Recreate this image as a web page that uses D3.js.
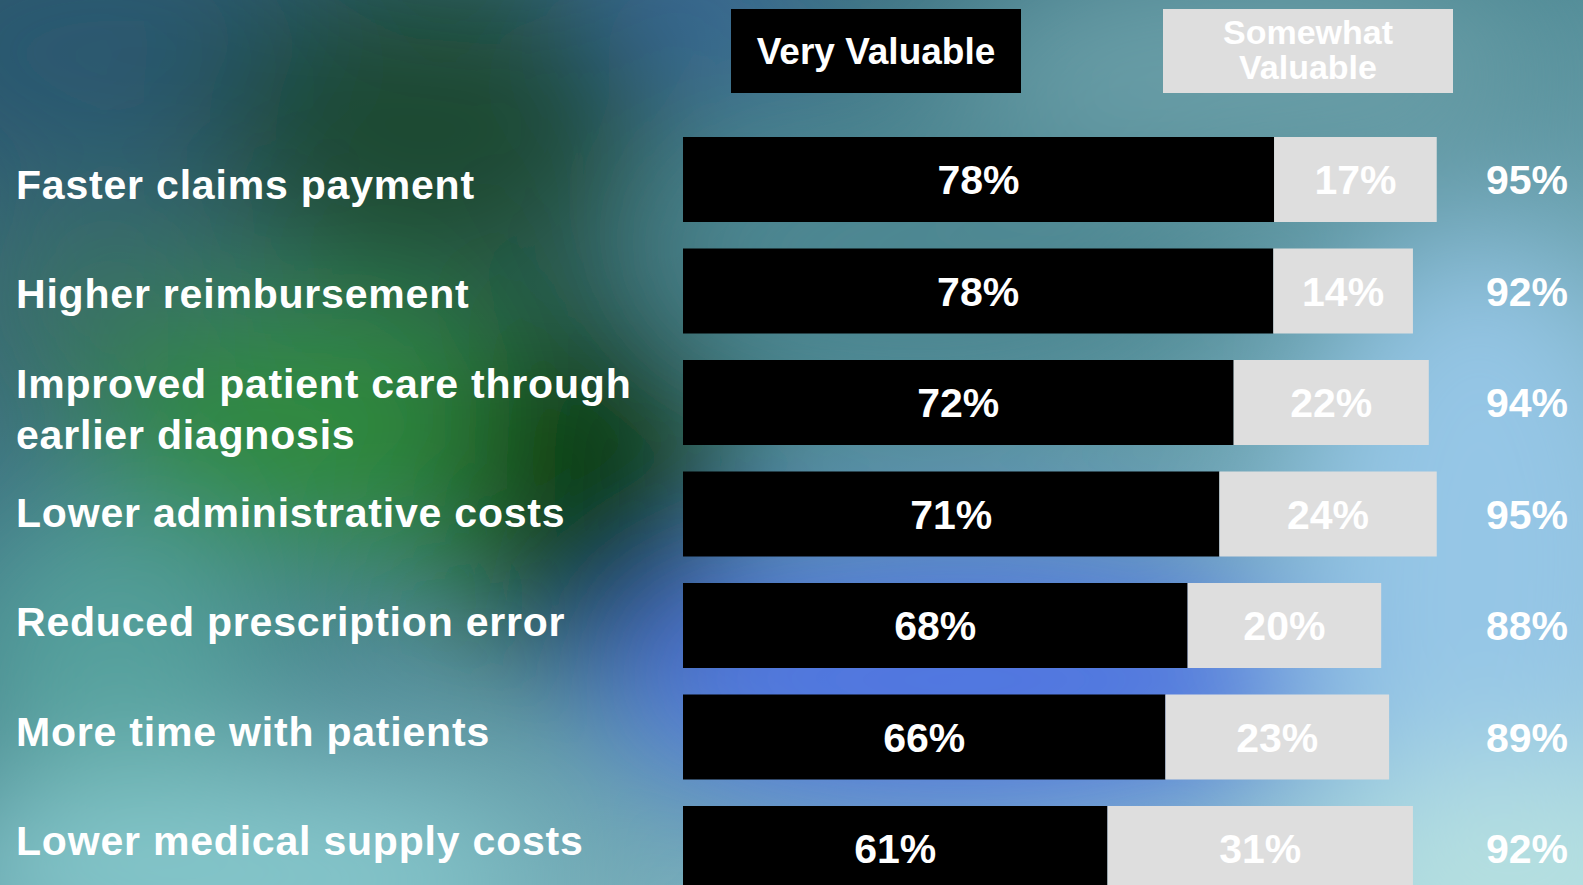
<!DOCTYPE html>
<html>
  <head>
    <meta charset="utf-8">
    <title>Value of e-prescribing</title>
    <script src="https://d3js.org/d3.v7.min.js"></script>
    <style>
      body { margin: 0; overflow: hidden; }
      #chart { display: block; }
      text { font-family: "Liberation Sans", Arial, sans-serif; font-weight: bold; }
    </style>
  </head>
  <body>
    <svg id="chart" width="1583" height="885">
      <defs>
        <filter id="blur" x="-50%" y="-50%" width="200%" height="200%">
          <feGaussianBlur stdDeviation="70"></feGaussianBlur>
        </filter>
        <linearGradient id="baseFill" x1="0" y1="0" x2="1" y2="1">
          <stop offset="0" stop-color="#2e5a70"></stop>
          <stop offset="0.45" stop-color="#4a8590"></stop>
          <stop offset="1" stop-color="#a6d6e4"></stop>
        </linearGradient>
      </defs>
      <g id="backGroup"></g>
      <g id="legendGroup"></g>
      <g id="chartGroup"></g>
      <g id="labelGroup"></g>
    </svg>
    <script>
      // data
      var categories = [
        "Faster claims payment",
        "Higher reimbursement",
        "Improved patient care through earlier diagnosis",
        "Lower administrative costs",
        "Reduced prescription error",
        "More time with patients",
        "Lower medical supply costs"
      ];
      var seriesNames = ["Very Valuable", "Somewhat Valuable"];
      var veryLabel = [78, 78, 72, 71, 68, 66, 61];
      var somewhatLabel = [17, 14, 22, 24, 20, 23, 31];
      var totalLabel = [95, 92, 94, 95, 88, 89, 92];
      // where the black part ends, as drawn in the picture
      var veryBar = [74.5, 74.4, 69.4, 67.6, 63.6, 60.8, 53.5];

      var rows = categories.map(function(c, i) {
        return { name: c, very: veryLabel[i], somewhat: somewhatLabel[i], total: totalLabel[i], veryEnd: veryBar[i] };
      });

      // name page elements
      var chart = d3.select("#chart");
      var backGroup = d3.select("#backGroup");
      var legendGroup = d3.select("#legendGroup");
      var chartGroup = d3.select("#chartGroup");
      var labelGroup = d3.select("#labelGroup");

      var colour = d3.scaleOrdinal().domain(seriesNames).range(["#000000", "#dedede"]);

      // background blobs
      backGroup.append("rect")
        .attr("width", 1583).attr("height", 885)
        .attr("fill", "url(#baseFill)");
      var blobs = [
        [120, 50, 260, 130, "#2c5870"],
        [430, 130, 220, 160, "#1a4a30"],
        [700, 10, 110, 50, "#3560a0"],
        [1250, 70, 300, 110, "#6a9fa8"],
        [920, 250, 280, 130, "#4d8792"],
        [100, 300, 120, 90, "#3a7062"],
        [330, 430, 240, 120, "#2e8a3a"],
        [590, 480, 130, 190, "#083a0c"],
        [110, 660, 160, 150, "#55a09c"],
        [230, 880, 320, 110, "#86c8cc"],
        [960, 680, 360, 130, "#5074e2"],
        [1480, 560, 190, 330, "#95c6e6"],
        [1520, 880, 200, 120, "#b6e0e0"]
      ];
      backGroup.append("g")
        .attr("filter", "url(#blur)")
        .selectAll("ellipse")
        .data(blobs)
        .join("ellipse")
          .attr("cx", function(d) { return d[0]; })
          .attr("cy", function(d) { return d[1]; })
          .attr("rx", function(d) { return d[2]; })
          .attr("ry", function(d) { return d[3]; })
          .attr("fill", function(d) { return d[4]; });

      // scales
      var x = d3.scaleLinear().domain([0, 100]).range([683, 1476.4]);
      var y = d3.scaleBand().domain(categories).range([137, 891]).paddingInner(0.2377);
      var yLabel = d3.scalePoint().domain(categories).range([199, 855]);

      // legend
      var legend = legendGroup.selectAll(".key")
        .data(seriesNames)
        .join("g")
          .attr("class", "key")
          .attr("transform", function(d, i) { return "translate(" + (731 + i * 432) + ",9)"; });
      legend.append("rect")
        .attr("width", 290).attr("height", 84)
        .attr("fill", function(d) { return colour(d); });
      legend.append("text")
        .attr("x", 145)
        .attr("text-anchor", "middle")
        .attr("fill", "#ffffff")
        .style("font-size", function(d, i) { return i ? "34px" : "37px"; })
        .each(function(d, i) {
          var t = d3.select(this);
          var lines = i ? d.split(" ") : [d];
          lines.forEach(function(l, j) {
            t.append("tspan")
              .attr("x", 145)
              .attr("y", lines.length > 1 ? 35 + j * 35 : 55)
              .text(l);
          });
        });

      // bars
      var bar = chartGroup.selectAll(".row")
        .data(rows)
        .join("g")
          .attr("class", "row")
          .attr("transform", function(d) { return "translate(0," + y(d.name) + ")"; });
      bar.append("rect")
        .attr("x", x(0))
        .attr("width", function(d) { return x(d.veryEnd) - x(0); })
        .attr("height", y.bandwidth())
        .attr("fill", colour(seriesNames[0]));
      bar.append("rect")
        .attr("x", function(d) { return x(d.veryEnd); })
        .attr("width", function(d) { return x(d.total) - x(d.veryEnd); })
        .attr("height", y.bandwidth())
        .attr("fill", colour(seriesNames[1]));
      bar.append("text")
        .attr("x", function(d) { return (x(0) + x(d.veryEnd)) / 2; })
        .attr("y", y.bandwidth() / 2 + 15)
        .attr("text-anchor", "middle")
        .attr("fill", "#ffffff")
        .style("font-size", "41px")
        .text(function(d) { return d.very + "%"; });
      bar.append("text")
        .attr("x", function(d) { return (x(d.veryEnd) + x(d.total)) / 2; })
        .attr("y", y.bandwidth() / 2 + 15)
        .attr("text-anchor", "middle")
        .attr("fill", "#ffffff")
        .style("font-size", "41px")
        .text(function(d) { return d.somewhat + "%"; });
      bar.append("text")
        .attr("x", 1568)
        .attr("y", y.bandwidth() / 2 + 15)
        .attr("text-anchor", "end")
        .attr("fill", "#ffffff")
        .style("font-size", "41px")
        .text(function(d) { return d.total + "%"; });

      // category labels, wrapped when too long
      labelGroup.selectAll("text")
        .data(categories)
        .join("text")
          .attr("x", 16)
          .attr("y", function(d) { return yLabel(d); })
          .attr("fill", "#ffffff")
          .style("font-size", "41px")
          .style("letter-spacing", "0.8px")
          .each(function(d) {
            var t = d3.select(this);
            var words = d.split(" ");
            var lines = [];
            var line = [];
            var probe = t.append("tspan");
            words.forEach(function(w) {
              line.push(w);
              probe.text(line.join(" "));
              if (probe.node().getComputedTextLength() > 640 && line.length > 1) {
                line.pop();
                lines.push(line.join(" "));
                line = [w];
              }
            });
            lines.push(line.join(" "));
            probe.remove();
            var y0 = yLabel(d) - 20 * (lines.length - 1);
            lines.forEach(function(l, j) {
              t.append("tspan")
                .attr("x", 16)
                .attr("y", y0 + j * 51)
                .text(l);
            });
          });
    </script>
  </body>
</html>
